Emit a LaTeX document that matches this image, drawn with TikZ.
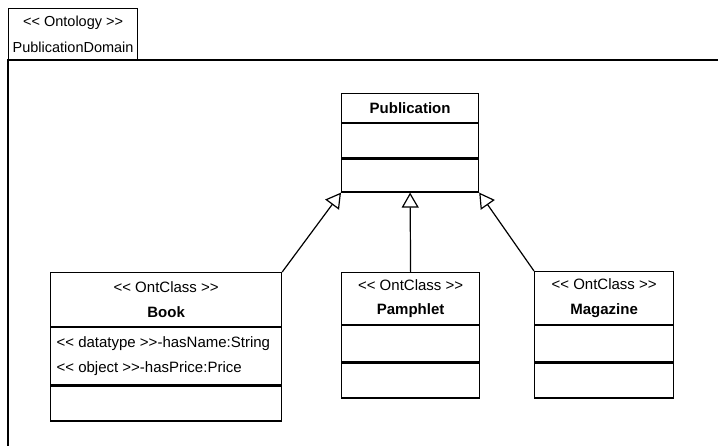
\documentclass[tikz,border=0pt]{standalone}
\usepackage{fontspec}
\setmainfont{Liberation Sans}
\usetikzlibrary{arrows.meta}
\newcommand{\stereo}[1]{<\kern0pt< #1 >\kern0pt>}

\begin{document}
\begin{tikzpicture}[x=1pt, y=-1pt, line width=1.2pt,
	every node/.style={font=\fontsize{15}{24.5}\selectfont},
	comp/.style={draw, anchor=north west, inner sep=0pt, align=center},
	gen/.style={-{Triangle[open, length=15pt, width=17pt]}}]
	\useasboundingbox (0,0) rectangle (718,446);
	\draw (8,446) -- (8,60) -- (718,60);
	\node[comp, minimum width=129pt, minimum height=52pt, font=\fontsize{14.5}{26}\selectfont] (tab) at (8,8) {\stereo{Ontology}\\PublicationDomain};
	\node[comp, minimum width=137pt, minimum height=29pt, font=\fontsize{15}{24.5}\selectfont\bfseries] (pubT) at (341,93) {Publication};
	\node[comp, minimum width=137pt, minimum height=34pt] (pubA) at (pubT.south west) {};
	\node[comp, minimum width=137pt, minimum height=33pt] (pubO) at (pubA.south west) {};
	\node[comp, minimum width=231pt, minimum height=54pt] (bookT) at (50,272) {\stereo{OntClass}\\\textbf{Book}};
	\node[comp, minimum width=231pt, minimum height=57pt] (bookA) at (bookT.south west) {};
	\node[comp, minimum width=231pt, minimum height=35pt] (bookO) at (bookA.south west) {};
	\node[anchor=west, align=left, inner sep=0pt, xshift=6pt] (bookAttr) at (bookA.west) {\stereo{datatype}-hasName:String\\\stereo{object}-hasPrice:Price};
	\node[comp, minimum width=138pt, minimum height=52pt] (pamT) at (341,272) {\stereo{OntClass}\\\textbf{Pamphlet}};
	\node[comp, minimum width=138pt, minimum height=36pt] (pamA) at (pamT.south west) {};
	\node[comp, minimum width=138pt, minimum height=35pt] (pamO) at (pamA.south west) {};
	\node[comp, minimum width=139pt, minimum height=53pt] (magT) at (534,271) {\stereo{OntClass}\\\textbf{Magazine}};
	\node[comp, minimum width=139pt, minimum height=36pt] (magA) at (magT.south west) {};
	\node[comp, minimum width=139pt, minimum height=35pt] (magO) at (magA.south west) {};
	\draw[gen] (bookT.north east) -- (pubO.south west);
	\draw[gen] (pamT.north) -- (pubO.south);
	\draw[gen] (magT.north west) -- (pubO.south east);
\end{tikzpicture}
\end{document}
